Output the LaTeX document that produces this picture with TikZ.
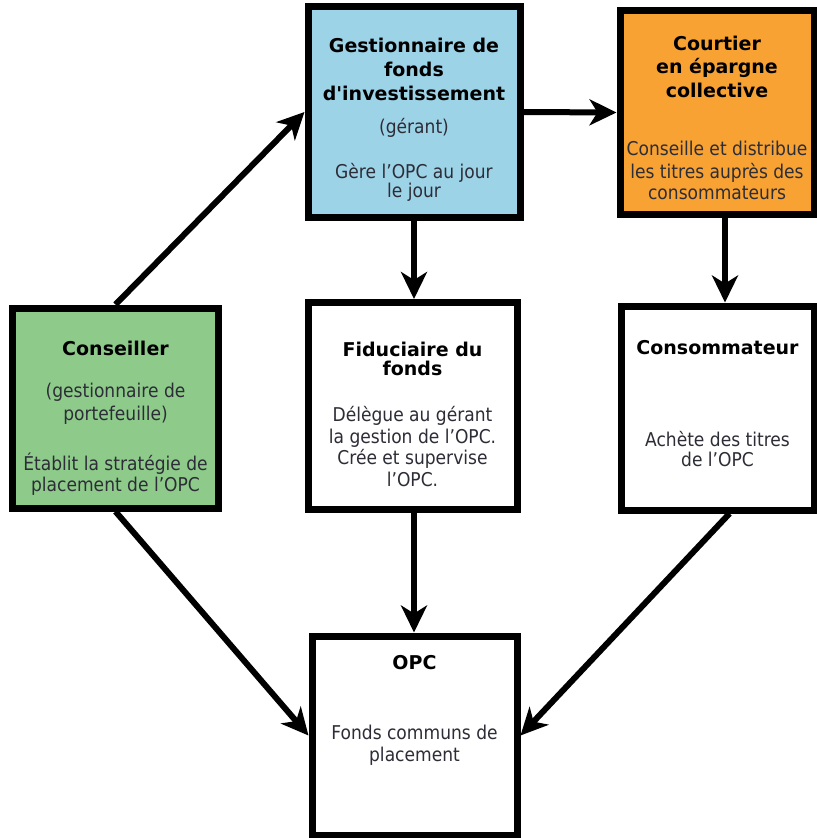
\documentclass[tikz,border=0pt]{standalone}
\usepackage{fontspec}
\setmainfont{DejaVu Sans}[FakeStretch=0.9]
\newfontfamily\headfont{DejaVu Sans}
\usetikzlibrary{arrows.meta}

\definecolor{gerant}{RGB}{157,211,231}
\definecolor{courtier}{RGB}{247,162,50}
\definecolor{conseil}{RGB}{142,203,138}
\definecolor{bodytext}{RGB}{45,45,55}

\newcommand{\titlef}{\headfont\bfseries\color{black}}
\newcommand{\bodyf}{\normalfont\color{bodytext}}

\begin{document}
\begin{tikzpicture}[x=1bp, y=-1bp,
	box/.style={draw, line width=7bp, inner sep=0pt},
	txt/.style={align=center, inner sep=0pt, anchor=north, text=bodytext,
		font=\fontsize{19bp}{22bp}\selectfont},
	arr/.style={line width=6bp, -{Stealth[length=27bp, width=26bp, inset=8bp]}}]

	\useasboundingbox (0,0) rectangle (817,838);

	% boxes
	\node[box, fill=gerant, minimum width=212bp, minimum height=210bp] (gest) at (414,112) {};
	\node[box, fill=courtier, minimum width=194bp, minimum height=203bp] (court) at (717,112.5) {};
	\node[box, fill=conseil, minimum width=205bp, minimum height=200bp] (cons) at (115.5,408) {};
	\node[box, fill=white, minimum width=209bp, minimum height=207bp] (fid) at (412.5,406) {};
	\node[box, fill=white, minimum width=193bp, minimum height=204bp] (conso) at (717.5,408) {};
	\node[box, fill=white, minimum width=205bp, minimum height=199bp] (opc) at (414.5,735.5) {};

	% texts
	\node[txt] (gestTxt) at (414,37.6) {\titlef Gestionnaire de\\[2bp] \titlef fonds\\[2bp]
		\titlef d'investissement\\[11bp] \bodyf (gérant)\\[23bp]
		\bodyf Gère l'OPC au jour\\[-3bp] \bodyf le jour};
	\node[txt] (courtTxt) at (717,35.6) {\titlef Courtier\\[1bp] \titlef en épargne\\[2bp]
		\titlef collective\\[36bp] \bodyf Conseille et distribue\\[1bp]
		\bodyf les titres auprès des\\[-1bp] \bodyf consommateurs};
	\node[txt] (consTxt) at (115.5,340.6) {\titlef Conseiller\\[20bp]
		\bodyf (gestionnaire de\\[1bp] \bodyf portefeuille)\\[28bp]
		\bodyf Établit la stratégie de\\[-1bp] \bodyf placement de l'OPC};
	\node[txt] (fidTxt) at (412.5,341.6) {\titlef Fiduciaire du\\[-3bp] \titlef fonds\\[24bp]
		\bodyf Délègue au gérant\\ \bodyf la gestion de l'OPC.\\[-1bp]
		\bodyf Crée et supervise\\ \bodyf l'OPC.};
	\node[txt] (consoTxt) at (717.5,340.6) {\titlef Consommateur\\[70bp]
		\bodyf Achète des titres\\[-2bp] \bodyf de l'OPC};
	\node[txt] (opcTxt) at (414.5,655.6) {\titlef OPC\\[48bp]
		\bodyf Fonds communs de\\ \bodyf placement};

	% arrows
	\draw[arr] (cons.north) -- (gest.west);
	\draw[arr] (gest.east) -- (court.west);
	\draw[arr] (gest.south) -- (gest.south |- fid.north);
	\draw[arr] ([xshift=8bp]court.south) -- ([xshift=8bp]court.south |- conso.north);
	\draw[arr] (gest.south |- fid.south) -- (gest.south |- opc.north);
	\draw[arr] (cons.south) -- (opc.west);
	\draw[arr] ([xshift=12bp]conso.south) -- (opc.east);

\end{tikzpicture}
\end{document}
